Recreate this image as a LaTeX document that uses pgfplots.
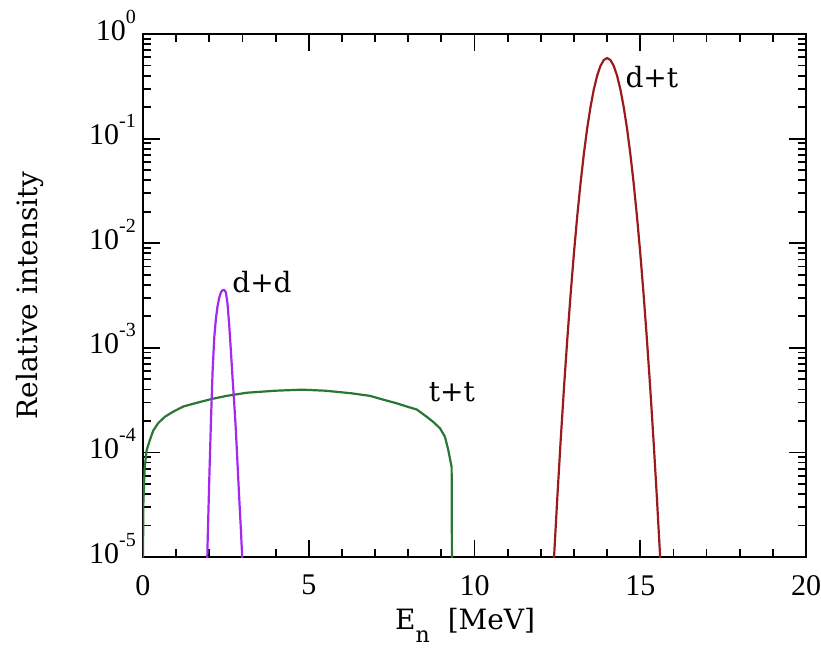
\documentclass[border=0pt]{standalone}
\usepackage{pgfplots}
\pgfplotsset{compat=1.18}
\usepackage{fontspec}
\setmainfont{DejaVu Serif}
\newfontfamily\tickfont{Liberation Serif}
\definecolor{dtred}{RGB}{153,27,30}
\definecolor{ddpurple}{RGB}{165,40,240}
\definecolor{ttgreen}{RGB}{40,120,50}
\newcommand{\supx}[1]{\raisebox{17pt}{\fontsize{20}{20}\selectfont #1}}
\begin{document}
\begin{tikzpicture}
\useasboundingbox (-143pt,-93pt) rectangle (678pt,557pt);
\begin{axis}[
  at={(0,0)}, anchor=south west,
  scale only axis, width=663pt, height=523pt,
  xmin=0, xmax=20, ymode=log, ymin=1e-5, ymax=1,
  axis line style={line width=2pt},
  xminorticks=true, yminorticks=true,
  every tick/.style={black, line width=1.8pt},
  major tick length=17pt, minor tick length=8pt,
  tick align=inside,
  xtick={0,5,10,15,20}, xticklabels={0,5,10,15,20},
  minor xtick={1,2,3,4,6,7,8,9,11,12,13,14,16,17,18,19},
  ytick={1e-5,1e-4,1e-3,1e-2,1e-1,1},
  yticklabels={10\supx{-5},10\supx{-4},10\supx{-3},10\supx{-2},10\supx{-1},10\supx{0}},
  minor ytick={2e-5,3e-5,4e-5,5e-5,6e-5,7e-5,8e-5,9e-5,
               2e-4,3e-4,4e-4,5e-4,6e-4,7e-4,8e-4,9e-4,
               2e-3,3e-3,4e-3,5e-3,6e-3,7e-3,8e-3,9e-3,
               2e-2,3e-2,4e-2,5e-2,6e-2,7e-2,8e-2,9e-2,
               2e-1,3e-1,4e-1,5e-1,6e-1,7e-1,8e-1,9e-1},
  xticklabel style={font=\tickfont\fontsize{30}{30}\selectfont, inner sep=0pt, anchor=north, yshift=-18pt},
  yticklabel style={font=\tickfont\fontsize{30}{30}\selectfont, inner sep=0pt, anchor=base east, xshift=-7pt, yshift=-6pt},
  xlabel={E\raisebox{-13pt}{\fontsize{22}{22}\selectfont n}\hspace{18pt}[MeV]},
  ylabel={Relative intensity},
  xlabel style={at={(axis description cs:0,0)}, anchor=base west, inner sep=0pt, xshift=252pt, yshift=-72pt, font=\fontsize{28}{28}\selectfont},
  ylabel style={at={(axis description cs:0,0.5)}, anchor=center, inner sep=0pt, yshift=113pt, font=\fontsize{28}{28}\selectfont},
]
% t+t
\addplot[ttgreen, line width=2.2pt] coordinates {
(0.0,1e-7)(0.001,1e-5)(0.01,3.2e-5)(0.05,7.1e-5)(0.11,1.05e-4)(0.21,1.32e-4)(0.31,1.62e-4)
(0.46,1.91e-4)(0.66,2.19e-4)(0.91,2.45e-4)(1.22,2.75e-4)(1.57,2.95e-4)(2.07,3.24e-4)
(2.52,3.47e-4)(3.13,3.72e-4)(4.0,3.89e-4)(4.8,3.98e-4)(5.5,3.89e-4)(6.3,3.67e-4)
(6.85,3.47e-4)(7.30,3.16e-4)(7.65,2.95e-4)(7.95,2.75e-4)(8.26,2.57e-4)(8.56,2.19e-4)
(8.76,1.95e-4)(8.96,1.70e-4)(9.11,1.41e-4)(9.21,1.05e-4)(9.31,7.24e-5)(9.34,1e-7)
};
% d+d
\addplot[ddpurple, line width=2.2pt] coordinates {
(1.90,2.51e-6)(1.95,1.41e-5)(2.00,5.62e-5)(2.05,2.00e-4)(2.10,6.03e-4)(2.15,1.26e-3)
(2.20,1.91e-3)(2.25,2.51e-3)(2.30,3.02e-3)(2.35,3.39e-3)(2.40,3.55e-3)(2.45,3.57e-3)
(2.50,3.39e-3)(2.55,2.63e-3)(2.60,1.66e-3)(2.65,9.55e-4)(2.70,5.25e-4)(2.75,3.02e-4)
(2.80,1.66e-4)(2.85,7.94e-5)(2.90,3.80e-5)(2.95,1.91e-5)(3.00,8.91e-6)(3.05,3.16e-6)
};
% d+t
\addplot[dtred, line width=2.2pt] coordinates {
(12.3,2.43e-6)(12.4,1.0e-5)(12.5,3.78e-5)(12.6,1.31e-4)(12.7,4.18e-4)(12.8,1.22e-3)
(12.9,3.27e-3)(13.0,8.07e-3)(13.1,1.82e-2)(13.2,3.78e-2)(13.3,7.19e-2)(13.4,0.126)
(13.5,0.201)(13.6,0.296)(13.7,0.400)(13.8,0.496)(13.9,0.564)(14.0,0.589)
(14.1,0.564)(14.2,0.496)(14.3,0.400)(14.4,0.296)(14.5,0.201)(14.6,0.126)
(14.7,7.19e-2)(14.8,3.78e-2)(14.9,1.82e-2)(15.0,8.07e-3)(15.1,3.27e-3)(15.2,1.22e-3)
(15.3,4.18e-4)(15.4,1.31e-4)(15.5,3.78e-5)(15.6,1.0e-5)(15.7,2.43e-6)
};
\node[font=\fontsize{28}{28}\selectfont] at (axis cs:3.59,4.26e-3) {d+d};
\node[font=\fontsize{28}{28}\selectfont] at (axis cs:9.32,3.8e-4) {t+t};
\node[font=\fontsize{28}{28}\selectfont] at (axis cs:15.35,0.39) {d+t};
\end{axis}
\end{tikzpicture}
\end{document}
